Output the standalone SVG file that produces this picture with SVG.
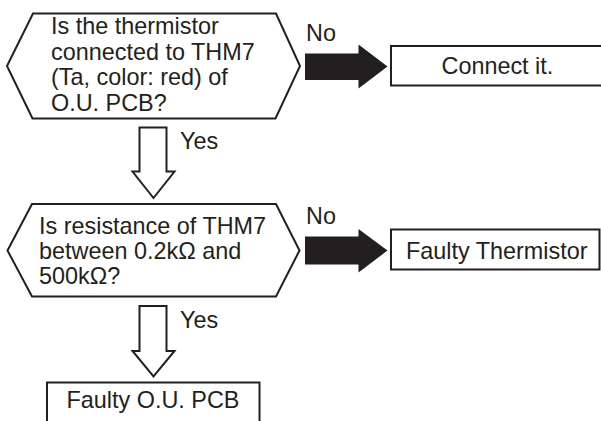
<svg xmlns="http://www.w3.org/2000/svg" width="601" height="421" viewBox="0 0 601 421">
<style>
.shape{fill:#fff;stroke:#231f20;stroke-width:2;stroke-linejoin:miter}
.t{font-family:"Liberation Sans",Arial,sans-serif;font-size:23.4px;fill:#231f20}
.solid{fill:#231f20;stroke:none}
.hollow{fill:#fff;stroke:#231f20;stroke-width:2;stroke-linejoin:miter}
</style>
<rect width="601" height="421" fill="#fff"/>
<g id="q1">
<polygon class="shape" points="7,66 33,13.5 276,13.5 300,66 275.5,118.5 32.5,118.5"/>
<text class="t" x="51" y="34">Is the thermistor</text>
<text class="t" x="51" y="59.5">connected to THM7</text>
<text class="t" x="51" y="85">(Ta, color: red) of</text>
<text class="t" x="51" y="110.5">O.U. PCB?</text>
</g>
<g id="a1">
<rect class="shape" x="391" y="46" width="215" height="39.5"/>
<text class="t" x="441.5" y="74">Connect it.</text>
</g>
<g id="q2">
<polygon class="shape" points="7.5,250.5 32,204 276,204 299.5,250.5 276,296.5 32,296.5"/>
<text class="t" x="39" y="233.5">Is resistance of THM7</text>
<text class="t" x="39" y="258.5">between 0.2kΩ and</text>
<text class="t" x="39" y="283.5">500kΩ?</text>
</g>
<g id="a2">
<rect class="shape" x="391" y="229.5" width="208.5" height="40"/>
<text class="t" x="406" y="259">Faulty Thermistor</text>
</g>
<g id="a3">
<rect class="shape" x="47" y="382.5" width="212.5" height="50"/>
<text class="t" x="66.5" y="407.5">Faulty O.U. PCB</text>
</g>
<g id="connectors">
<polygon class="solid" points="305,53.5 358.5,53.5 358.5,44.5 387.5,66.5 358.5,88.5 358.5,80 305,80"/>
<text class="t" x="306" y="40.5">No</text>
<polygon class="hollow" points="139.5,127.5 166.5,127.5 166.5,171.5 174.5,171.5 153.5,198 132.5,171.5 139.5,171.5"/>
<text class="t" x="180" y="148.5">Yes</text>
<polygon class="solid" points="305,236.5 358.5,236.5 358.5,229 387.5,250.5 358.5,272.5 358.5,264.5 305,264.5"/>
<text class="t" x="306" y="223.5">No</text>
<polygon class="hollow" points="139.5,306 166.5,306 166.5,351 174.5,351 153.5,376.5 132.5,351 139.5,351"/>
<text class="t" x="180" y="327.5">Yes</text>
</g>
</svg>
